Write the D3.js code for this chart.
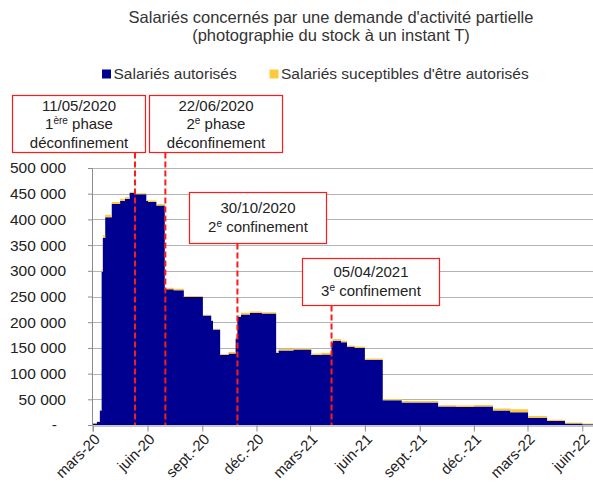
<!DOCTYPE html>
<html>
<head>
<meta charset="utf-8">
<script src="https://cdn.jsdelivr.net/npm/d3@7"></script>
<style>
body { margin: 0; background: #fff; }
svg { display: block; font-family: Arial, "Liberation Sans", sans-serif; }
</style>
</head>
<body>
<script>
// stock of employees, one row per change of level
var dates = ["2020-03-01","2020-03-08","2020-03-13","2020-03-16","2020-03-18","2020-03-22","2020-04-02","2020-04-16","2020-04-24","2020-05-02",
  "2020-05-11","2020-05-30","2020-06-02","2020-06-16","2020-06-30","2020-07-15","2020-08-01","2020-09-02","2020-09-16","2020-09-19",
  "2020-10-01","2020-10-15","2020-10-27","2020-10-30","2020-11-05","2020-11-20","2020-12-10","2021-01-03","2021-01-07","2021-02-01",
  "2021-03-03","2021-03-20","2021-04-06","2021-04-08","2021-04-22","2021-05-02","2021-05-15","2021-06-01","2021-07-01","2021-08-02",
  "2021-09-01","2021-10-02","2021-11-01","2021-12-01","2022-01-02","2022-01-31","2022-03-02","2022-04-03","2022-05-03","2022-06-01","2022-06-19"];
var autorises = [3000,6000,28000,298000,364000,404000,430000,436000,440000,452000,
  449000,436000,434000,427000,264000,262000,249000,213000,203000,186000,
  136000,139000,168000,210000,215000,218000,217000,140000,145000,147000,
  136000,137000,160000,164000,161000,152000,150000,127000,48000,44000,
  44000,36000,35000,36000,28000,25000,14000,8000,3000,1500,1500];
var susceptibles = [1000,1500,2000,5000,5000,5000,4000,4000,3000,2000,
  2000,2000,3000,3000,3000,3000,2000,1500,1500,1500,
  2000,3000,3000,3000,3500,3000,2500,3000,3000,2500,
  3000,3500,4000,3500,3000,2500,2500,2500,2500,2500,
  2500,2500,3000,3000,4000,5500,3500,2000,1800,1500,1500];

var xTicks = ["2020-03-01","2020-06-01","2020-09-01","2020-12-01","2021-03-01","2021-06-01","2021-09-01","2021-12-01","2022-03-01","2022-06-01"];
var xTickLabels = ["mars-20","juin-20","sept.-20","déc.-20","mars-21","juin-21","sept.-21","déc.-21","mars-22","juin-22"];
var yTicks = [0,50000,100000,150000,200000,250000,300000,350000,400000,450000,500000];

var eventDates = ["2020-05-11","2020-07-01","2020-10-30","2021-04-06"];
// each line is a list of [text, superscript?]
var eventTexts = [
  [[["11/05/2020",0]], [["1",0],["ère",1],[" phase",0]], [["déconfinement",0]]],
  [[["22/06/2020",0]], [["2",0],["e",1],[" phase",0]], [["déconfinement",0]]],
  [[["30/10/2020",0]], [["2",0],["e",1],[" confinement",0]]],
  [[["05/04/2021",0]], [["3",0],["e",1],[" confinement",0]]]
];

var W = 593, H = 490;
var blue = "#000090", yellow = "#FFC93C";

var svg = d3.select("body").append("svg")
  .attr("width", W)
  .attr("height", H);

var parse = d3.timeParse("%Y-%m-%d");

var x = d3.scaleTime()
  .domain([parse("2020-03-01"), parse("2022-06-19")])
  .range([92.7, 593]);
var y = d3.scaleLinear()
  .domain([0, 500000])
  .range([425, 168]);

// title
svg.append("text")
  .attr("x", 331).attr("y", 23)
  .attr("text-anchor", "middle")
  .style("font-size", "16.5px").style("fill", "#333")
  .text("Salariés concernés par une demande  d'activité  partielle");
svg.append("text")
  .attr("x", 331).attr("y", 41)
  .attr("text-anchor", "middle")
  .style("font-size", "16.5px").style("fill", "#333")
  .text("(photographie du stock à un instant T)");

// legend
var legend = [["Salariés autorisés", blue, 102], ["Salariés suceptibles d'être autorisés", yellow, 269.5]];
svg.selectAll(".leg")
  .data(legend)
  .enter().append("rect")
  .attr("x", function(d){ return d[2]; })
  .attr("y", 69.5)
  .attr("width", 9).attr("height", 9)
  .attr("fill", function(d){ return d[1]; });
svg.selectAll(".legtxt")
  .data(legend)
  .enter().append("text")
  .attr("x", function(d){ return d[2] + 11.5; })
  .attr("y", 79)
  .style("font-size", "15.5px").style("fill", "#333")
  .text(function(d){ return d[0]; });

// grid
svg.append("g").selectAll("line")
  .data(yTicks.slice(1))
  .enter().append("line")
  .attr("x1", 92).attr("x2", W)
  .attr("y1", function(d){ return Math.round(y(d)) + 0.5; })
  .attr("y2", function(d){ return Math.round(y(d)) + 0.5; })
  .attr("stroke", "#b4b4b4");

// stacked area
var rows = dates.map(function(d, i){
  return { date: parse(d), aut: autorises[i], sus: susceptibles[i] };
});
var series = d3.stack().keys(["aut", "sus"])(rows);
var area = d3.area()
  .curve(d3.curveStepAfter)
  .x(function(d){ return x(d.data.date); })
  .y0(function(d){ return y(d[0]); })
  .y1(function(d){ return y(d[1]); });

svg.append("g").selectAll("path")
  .data(series)
  .enter().append("path")
  .attr("d", area)
  .attr("fill", function(d, i){ return i === 0 ? blue : yellow; });

// axes
var yAxis = svg.append("g")
  .attr("transform", "translate(92,0)")
  .call(d3.axisLeft(y)
    .tickValues(yTicks)
    .tickSize(4)
    .tickPadding(22)
    .tickFormat(function(d){ return d === 0 ? "-" : d3.format(",")(d).replace(/,/g, " "); }));
yAxis.selectAll("text")
  .style("font-size", "15.5px").style("fill", "#222").style("font-family", "Arial, 'Liberation Sans', sans-serif")
  .filter(function(d){ return d === 0; })
  .attr("x", -35);

var xAxis = svg.append("g")
  .attr("transform", "translate(0,425.5)")
  .call(d3.axisBottom(x)
    .tickValues(xTicks.map(parse))
    .tickSize(6)
    .tickFormat(function(d, i){ return xTickLabels[i]; }));
xAxis.selectAll("text")
  .attr("x", 0).attr("y", 0).attr("dy", "0.35em")
  .attr("transform", "translate(4,11) rotate(-45)")
  .style("text-anchor", "end")
  .style("font-size", "15px").style("fill", "#222").style("font-family", "Arial, 'Liberation Sans', sans-serif");

svg.selectAll(".domain, .tick line").attr("stroke", "#8c8c8c");

// event boxes and dashed lines
var boxes = [[12.5, 95.5, 133, 57, 15], [149.5, 95.5, 133, 57, 15], [189.5, 192.5, 137, 51, 20.5], [302.5, 258.5, 137, 47, 18.5]];

svg.append("g").selectAll("line")
  .data(eventDates)
  .enter().append("line")
  .attr("x1", function(d){ return x(parse(d)); })
  .attr("x2", function(d){ return x(parse(d)); })
  .attr("y1", function(d, i){ return boxes[i][1] + boxes[i][3]; })
  .attr("y2", y(0))
  .attr("stroke", "#ff1a1a")
  .attr("stroke-width", 2)
  .attr("stroke-dasharray", "6,3");

boxes.forEach(function(b, i){
  var g = svg.append("g");
  g.append("rect")
    .attr("x", b[0]).attr("y", b[1])
    .attr("width", b[2]).attr("height", b[3])
    .attr("fill", "#fff")
    .attr("stroke", "#ff1a1a")
    .attr("stroke-width", 1.2);
  eventTexts[i].forEach(function(line, j){
    var t = g.append("text")
      .attr("x", b[0] + b[2] / 2)
      .attr("y", b[1] + b[4] + j * 18.5)
      .attr("text-anchor", "middle")
      .style("font-size", "15px").style("fill", "#222");
    line.forEach(function(part){
      var s = t.append("tspan").text(part[0]);
      if (part[1]) s.style("font-size", "10px").attr("dy", -5);
      else if (s.node().previousSibling) s.attr("dy", 5);
    });
  });
});
</script>
</body>
</html>
